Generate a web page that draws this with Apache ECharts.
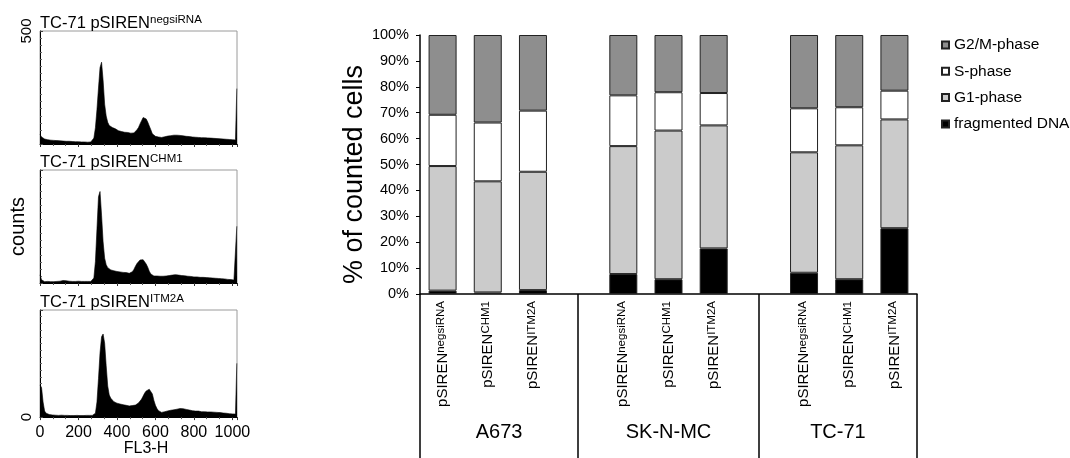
<!DOCTYPE html>
<html>
<head>
<meta charset="utf-8">
<script src="https://cdn.jsdelivr.net/npm/echarts@6/dist/echarts.min.js"></script>
<style>
  html, body { margin: 0; padding: 0; background: #fff; }
  #chart { width: 1070px; height: 458px; }
</style>
</head>
<body>
<div id="chart"></div>
<script>
// ---- DNA-content histograms (FL3-H), counts per 8-channel bin ----
const binWidth = 8;
const histNegsiRNA = [
  42, 31, 25, 22, 21, 19, 20, 17, 18, 16, 18, 15, 16, 14, 16, 13,
  14, 12, 14, 12, 13, 11, 12, 10, 12, 10, 11, 9, 10, 9, 10, 8,
  10, 9, 13, 26, 72, 152, 248, 338, 362, 282, 176, 124, 96, 82, 74, 73,
  66, 67, 60, 59, 54, 55, 51, 52, 49, 51, 47, 48, 44, 49, 53, 63,
  73, 89, 103, 117, 124, 111, 97, 80, 63, 45, 39, 34, 34, 31, 32, 29,
  31, 32, 33, 35, 34, 37, 36, 39, 38, 39, 37, 38, 35, 36, 33, 34,
  32, 33, 30, 31, 29, 30, 28, 29, 27, 28, 26, 28, 25, 27, 25, 26,
  24, 25, 23, 24, 22, 23, 21, 22, 20, 21, 19, 20, 18, 19, 17, 18
];
const histCHM1 = [
  36, 14, 8, 6, 5, 7, 5, 6, 5, 6, 5, 7, 6, 8, 9, 11,
  12, 10, 9, 8, 9, 7, 8, 7, 6, 8, 6, 7, 6, 7, 6, 7,
  6, 7, 9, 22, 95, 238, 382, 405, 300, 182, 110, 81, 68, 63, 58, 57,
  54, 53, 51, 50, 49, 50, 47, 48, 46, 45, 43, 44, 50, 60, 74, 86,
  94, 102, 106, 103, 96, 84, 70, 52, 40, 34, 31, 30, 31, 29, 30, 31,
  30, 32, 31, 34, 33, 36, 35, 38, 37, 38, 35, 36, 33, 34, 32, 31,
  30, 31, 29, 29, 27, 28, 27, 28, 25, 27, 25, 26, 24, 25, 23, 24,
  22, 23, 21, 22, 20, 21, 19, 20, 18, 18, 16, 17, 15, 14, 13, 12
];
const histITM2A = [
  150, 138, 70, 28, 18, 14, 12, 11, 10, 11, 9, 9, 8, 9, 9, 8,
  8, 7, 8, 8, 7, 8, 7, 7, 8, 7, 7, 8, 7, 7, 8, 7,
  8, 8, 8, 10, 18, 70, 180, 300, 375, 388, 345, 240, 145, 103, 88, 79,
  72, 69, 65, 64, 61, 60, 58, 58, 55, 54, 52, 53, 54, 56, 56, 61,
  66, 73, 84, 98, 112, 122, 128, 130, 124, 108, 78, 55, 40, 30, 25, 22,
  23, 25, 26, 29, 30, 32, 31, 34, 35, 37, 38, 40, 42, 39, 38, 36,
  34, 33, 31, 30, 29, 28, 27, 28, 26, 25, 26, 25, 26, 24, 25, 24,
  25, 23, 24, 22, 23, 21, 20, 19, 20, 18, 17, 16, 17, 15, 16, 14
];
// events piled up in the top channel (1023) of each run
const lastChannelCounts = [245, 251, 251];
const histTitles = ['negsiRNA', 'CHM1', 'ITM2A'];

// ---- Cell-cycle distribution, % of counted cells ----
const cellLines = ['A673', 'SK-N-MC', 'TC-71'];
const constructs = ['negsiRNA', 'CHM1', 'ITM2A'];
const fragmentedDNA = [[1.3, 0.6, 1.5], [7.7, 5.7, 17.6], [8.2, 5.7, 25.4]];
const g1Phase      = [[48.1, 42.9, 45.7], [49.4, 57.4, 47.5], [46.5, 51.7, 42.0]];
const sPhase       = [[19.8, 22.7, 23.6], [19.6, 14.8, 12.5], [17.0, 14.7, 11.1]];
const g2mPhase     = [[30.8, 33.8, 29.2], [23.3, 22.1, 22.4], [28.3, 27.9, 21.5]];

const FONT = '"Liberation Sans", Arial, Helvetica, sans-serif';

// category slots: three constructs per cell line, one empty slot between lines
const slots = [];
cellLines.forEach((line, g) => {
  if (g > 0) slots.push('gap' + g);
  constructs.forEach(c => slots.push(line + '|' + c));
});
function toSlots(table) {
  const out = [];
  table.forEach((row, g) => {
    if (g > 0) out.push(null);
    row.forEach(v => out.push(v));
  });
  return out;
}
// group separator positions (slot units) and group label positions
const bounds = [0];
slots.forEach((s, i) => { if (s.startsWith('gap')) bounds.push(i + 0.5); });
bounds.push(slots.length);
const groupCenters = cellLines.map((_, g) => (bounds[g] + bounds[g + 1]) / 2);

// ---- histogram panels ----
const histData = [histNegsiRNA, histCHM1, histITM2A];
const histTops = [31, 170, 310];
const HIST_LEFT = 40, HIST_W = 197, HIST_H = 113;

const grids = histTops.map(t => ({
  left: HIST_LEFT, top: t, width: HIST_W, height: HIST_H,
  show: true, borderColor: '#9a9a9a', borderWidth: 1, backgroundColor: 'transparent'
}));
grids.push({ left: 420, top: 35, width: 497, height: 259 });

const xAxes = histTops.map((t, i) => ({
  gridIndex: i, type: 'value', min: 0, max: 1024, interval: 200,
  axisLine: { show: true, onZero: false, lineStyle: { color: '#000', width: 1 } },
  axisTick: { show: true, length: 3, lineStyle: { color: '#333' } },
  minorTick: { show: true, splitNumber: 3, length: 2, lineStyle: { color: '#555' } },
  splitLine: { show: false },
  axisLabel: {
    show: i === 2, fontSize: 16, color: '#000', fontFamily: FONT, margin: 7,
    formatter: v => String(v)
  },
  name: i === 2 ? 'FL3-H' : '',
  nameLocation: 'middle', nameGap: 17,
  nameTextStyle: { fontSize: 16, color: '#000', fontFamily: FONT, padding: [0, 0, 0, 15] }
}));

const yAxes = histTops.map((t, i) => ({
  gridIndex: i, type: 'value', min: 0, max: 500, interval: 500,
  axisLine: { show: true, lineStyle: { color: '#000', width: 1 } },
  axisTick: { show: true, inside: true, length: 3, lineStyle: { color: '#444' } },
  minorTick: { show: true, splitNumber: 16, length: 2, lineStyle: { color: '#666' } },
  splitLine: { show: false },
  axisLabel: {
    rotate: 90, fontSize: 15, color: '#000', fontFamily: FONT, margin: 6,
    formatter: v => (i === 0 && v === 500) || (i === 2 && v === 0) ? String(v) : ''
  },
  name: i === 1 ? 'counts' : '',
  nameLocation: 'middle', nameGap: 12, nameRotate: 90,
  nameTextStyle: { fontSize: 20, color: '#000', fontFamily: FONT }
}));

// ---- stacked bar panel axes ----
xAxes.push({
  gridIndex: 3, type: 'category', data: slots, position: 'bottom',
  axisLine: { show: true, onZero: false, lineStyle: { color: '#000', width: 1.5 } },
  axisTick: { show: false },
  axisLabel: {
    interval: 0, rotate: 90, margin: 7, color: '#000',
    formatter: key => key.startsWith('gap') ? '' : '{m|pSIREN}{s|' + key.split('|')[1] + '}',
    rich: {
      m: { fontSize: 15, fontFamily: FONT, color: '#000' },
      s: { fontSize: 11.5, fontFamily: FONT, color: '#000', verticalAlign: 'top', lineHeight: 8 }
    }
  }
});
xAxes.push({
  gridIndex: 3, type: 'value', min: 0, max: slots.length, position: 'bottom',
  axisLine: { show: false }, splitLine: { show: false },
  axisTick: { show: true, customValues: bounds, length: 170, lineStyle: { color: '#000', width: 1.5 } },
  axisLabel: {
    customValues: groupCenters, margin: 128, fontSize: 20, color: '#000', fontFamily: FONT,
    formatter: v => {
      const g = groupCenters.findIndex(c => Math.abs(c - v) < 1e-6);
      return g >= 0 ? cellLines[g] : '';
    }
  }
});
yAxes.push({
  gridIndex: 3, type: 'value', min: 0, max: 100, interval: 10,
  axisLine: { show: true, lineStyle: { color: '#000', width: 1.5 } },
  axisTick: { show: true, length: 4, lineStyle: { color: '#000' } },
  splitLine: { show: false },
  axisLabel: { formatter: '{value}%', fontSize: 14.5, color: '#000', fontFamily: FONT, margin: 11 },
  name: '% of counted cells', nameLocation: 'middle', nameGap: 38, nameRotate: 90,
  nameTextStyle: { fontSize: 27, color: '#000', fontFamily: FONT, padding: [0, 20, 0, 0] }
});

const histSeries = histData.map((counts, i) => ({
  type: 'line', xAxisIndex: i, yAxisIndex: i, symbol: 'none', silent: true,
  data: counts.map((c, k) => [k * binWidth, c])
    .concat([[1023, lastChannelCounts[i]], [1024, lastChannelCounts[i]]]),
  lineStyle: { color: '#000', width: 0.6 },
  areaStyle: { color: '#000', opacity: 1 }
}));

const barBorder = { borderColor: '#222', borderWidth: 1 };
const phases = [
  { name: 'fragmented DNA', values: fragmentedDNA, color: '#000000' },
  { name: 'G1-phase', values: g1Phase, color: '#cbcbcb' },
  { name: 'S-phase', values: sPhase, color: '#ffffff' },
  { name: 'G2/M-phase', values: g2mPhase, color: '#8e8e8e' }
];
const barSeries = phases.map(p => ({
  name: p.name, type: 'bar', stack: 'cells', xAxisIndex: 3, yAxisIndex: 3,
  barWidth: 28, data: toSlots(p.values),
  itemStyle: Object.assign({ color: p.color }, barBorder)
}));

const chart = echarts.init(document.getElementById('chart'), null, { renderer: 'canvas' });
chart.setOption({
  animation: false,
  backgroundColor: '#fff',
  textStyle: { fontFamily: FONT },
  title: histTitles.map((sup, i) => ({
    text: '{m|TC-71 pSIREN}{s|' + sup + '}',
    left: HIST_LEFT, top: histTops[i] - 17, padding: 0,
    textStyle: {
      fontWeight: 'normal',
      rich: {
        m: { fontSize: 16.5, fontFamily: FONT, fontWeight: 'normal', color: '#000', lineHeight: 18 },
        s: { fontSize: 11.5, fontFamily: FONT, fontWeight: 'normal', color: '#000', verticalAlign: 'top', lineHeight: 8 }
      }
    }
  })),
  legend: {
    orient: 'vertical', left: 941, top: 37, padding: 0,
    itemWidth: 7, itemHeight: 7, itemGap: 10.3, icon: 'rect',
    data: ['G2/M-phase', 'S-phase', 'G1-phase', 'fragmented DNA'],
    textStyle: { fontSize: 15.5, lineHeight: 16, color: '#000', fontFamily: FONT }
  },
  grid: grids,
  xAxis: xAxes,
  yAxis: yAxes,
  series: histSeries.concat(barSeries)
});
</script>
</body>
</html>
